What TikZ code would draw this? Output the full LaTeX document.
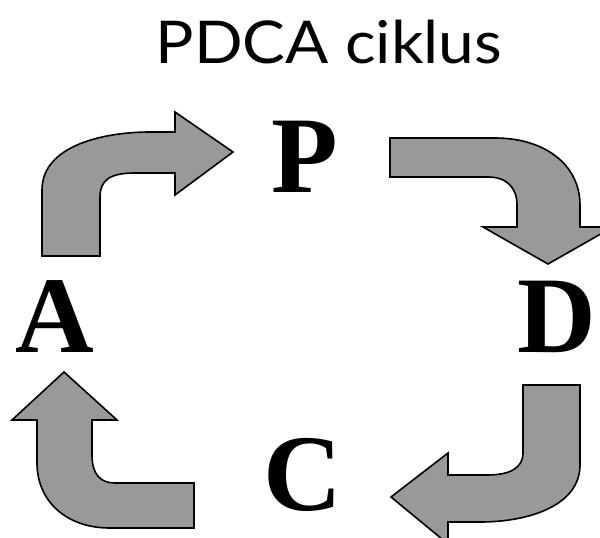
\documentclass[tikz,border=0pt]{standalone}
\usepackage{fontspec}
\setmainfont{Liberation Serif}
\newfontfamily\titlefont{Lato}
\usepackage{xcolor}
\definecolor{arrowgray}{HTML}{999999}

\begin{document}
\begin{tikzpicture}[x=1pt, y=-1pt,
    bentarrow/.style={fill=arrowgray, draw=black, line width=1.6pt, line join=miter},
    letter/.style={anchor=base, inner sep=0pt, font=\fontsize{109}{109}\bfseries\selectfont},
    titletext/.style={anchor=base, inner sep=0pt, font=\titlefont\fontsize{59}{59}\selectfont}
  ]
    \useasboundingbox (0,0) rectangle (600,538);
    \clip (0,0) rectangle (600,538);

    % title
    \node[titletext] (ttl) at (329,63) {\scalebox{1.085}[1]{PDCA ciklus}};

    % letters
    \node[letter] (p) at (305,192) {P};
    \node[letter] (d) at (557,352) {D};
    \node[letter] (c) at (303,510) {C};
    \node[letter] (a) at (55,352)  {A};

    % A -> P
    \draw[bentarrow] (42,256) -- (42,190) .. controls (42,145) and (105,132) .. (150,132)
      -- (175,132) -- (175,112) -- (233,152) -- (175,195) -- (175,173) -- (135,173)
      .. controls (110,173) and (100,180) .. (100,197) -- (100,256) -- cycle;
    % P -> D
    \draw[bentarrow] (390,138) -- (495,138) .. controls (545,138) and (580,165) .. (580,205)
      -- (580,227) -- (613,227) -- (548,264) -- (483,227) -- (517,227) -- (517,205)
      .. controls (517,188) and (507,177) .. (488,177) -- (390,177) -- cycle;
    % D -> C
    \draw[bentarrow] (523,385) -- (580,385) -- (580,465) .. controls (580,505) and (530,522) .. (480,522)
      -- (448,522) -- (448,544) -- (391,497) -- (448,453) -- (448,475) -- (487,475)
      .. controls (510,475) and (523,468) .. (523,453) -- cycle;
    % C -> A
    \draw[bentarrow] (194,483) -- (194,528) -- (110,528) .. controls (65,528) and (37,500) .. (37,463)
      -- (37,420) -- (12,420) -- (64,372) -- (117,420) -- (92,420) -- (92,455)
      .. controls (92,474) and (100,483) .. (115,483) -- cycle;
  \end{tikzpicture}
\end{document}
